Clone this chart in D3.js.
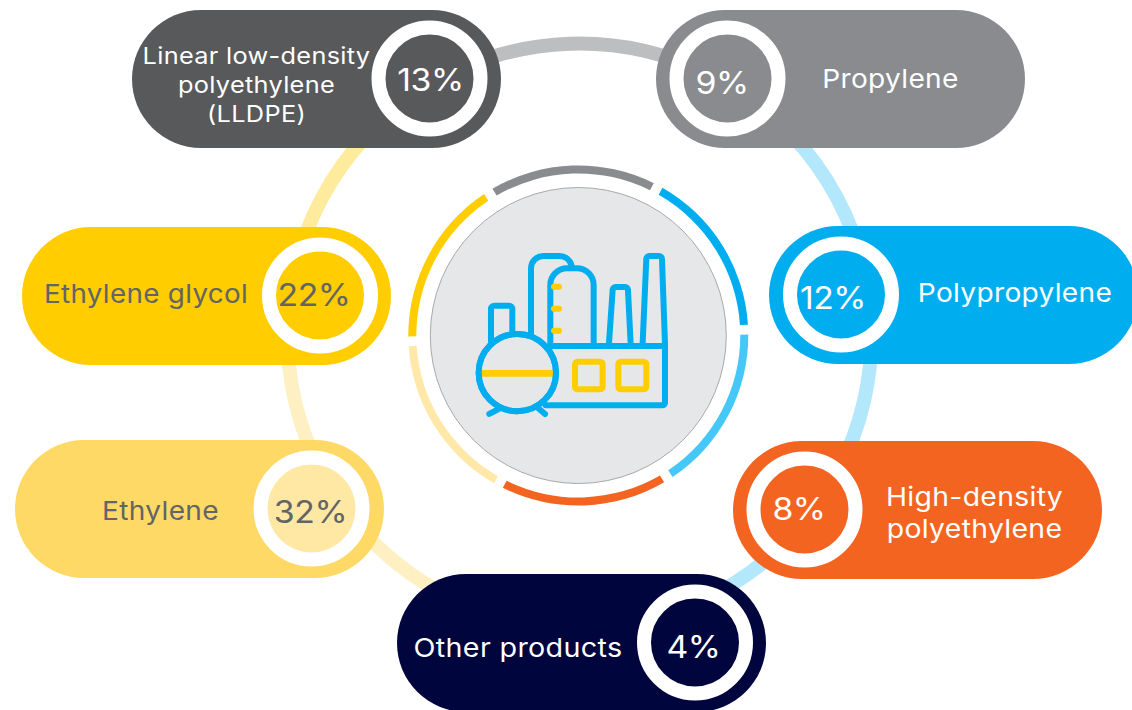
<!DOCTYPE html>
<html>
<head>
<meta charset="utf-8">
<script src="https://cdn.jsdelivr.net/npm/d3@7/dist/d3.min.js"></script>
<style>
html,body{margin:0;padding:0;background:#fff;overflow:hidden}
text{font-family:Inter,"Open Sans",sans-serif}
</style>
</head>
<body>
<svg id="chart" width="1132" height="710"></svg>
<script>
// Product shares
const categories = ["Linear low-density|polyethylene|(LLDPE)", "Propylene", "Polypropylene", "High-density|polyethylene", "Other products", "Ethylene", "Ethylene glycol"];
const shares = [13, 9, 12, 8, 4, 32, 22];
const pillColors = ["#58595b", "#8a8b8e", "#00aeef", "#f36421", "#00053d", "#ffd966", "#ffcd00"];
const coreColors = ["#58595b", "#8a8b8e", "#00aeef", "#f36421", "#00053d", "#ffe8a3", "#ffcd00"];
const textColors = ["#fff", "#fff", "#fff", "#fff", "#fff", "#636466", "#636466"];
// Ring segments, clockwise from the top
const innerRing = ["#8a8b8e", "#00aeef", "#45c8f7", "#f36421", "#ffe8a8", "#ffcd00"];
const outerRing = ["#bcbec0", "#b3e8fc", "#b3e8fc", "#b3e8fc", "#fff0c4", "#ffeb9e"];

const cx = 578.3, cy = 335.5;
const svg = d3.select("#chart");
const deg = Math.PI / 180;

const slices = d3.pie().value(1).sort(null)
  .startAngle(-32 * deg).endAngle(328 * deg);

// Wide connecting ring behind the pills
svg.append("g").attr("transform", `translate(${cx + 1.2},${cy})`)
  .selectAll("path").data(slices(outerRing)).join("path")
  .attr("fill", d => d.data)
  .attr("d", d3.arc().innerRadius(285).outerRadius(299));

// Grey disc and the segmented ring around it
svg.append("circle").attr("cx", cx).attr("cy", cy).attr("r", 148)
  .attr("fill", "#e6e7e8").attr("stroke", "#a7a9ac").attr("stroke-width", 1);

svg.append("g").attr("transform", `translate(${cx},${cy})`)
  .selectAll("path").data(slices.padAngle(2.4 * deg)(innerRing)).join("path")
  .attr("fill", d => d.data)
  .attr("d", d3.arc().innerRadius(162).outerRadius(170));

// Plant icon
const icon = svg.append("g").attr("transform", "translate(400,160) scale(0.3333)")
  .attr("fill", "none").attr("stroke-linejoin", "round").attr("stroke-linecap", "round");
const blue = "#00aeef", yellow = "#ffcd00";
icon.append("path").attr("stroke", blue).attr("stroke-width", 18).attr("d",
  "M273,545V447a10,10 0 0 1 10,-10H327a10,10 0 0 1 10,10V515" +
  "M393,522V325a37,37 0 0 1 37,-37H478a37,37 0 0 1 37,30" +
  "M451,550V375a50,50 0 0 1 50,-50H531a50,50 0 0 1 50,50V550" +
  "M627,550L638,390a9,9 0 0 1 9,-9H675a9,9 0 0 1 9,9L692,550" +
  "M728,550L739,297a9,9 0 0 1 9,-9H777a9,9 0 0 1 9,9L795,550V728a8,8 0 0 1 -8,8H437" +
  "M455,558H795" +
  "M300,745L268,762M415,745L435,762");
icon.append("g").attr("stroke", yellow).attr("stroke-width", 18).call(g => {
  g.append("path").attr("d", "M462,380H477M462,446H477M462,512H477");
  g.append("rect").attr("x", 525).attr("y", 605).attr("width", 83).attr("height", 83).attr("rx", 8);
  g.append("rect").attr("x", 655).attr("y", 605).attr("width", 84).attr("height", 83).attr("rx", 8);
});
icon.append("circle").attr("cx", 352).attr("cy", 638).attr("r", 116)
  .attr("stroke", blue).attr("stroke-width", 18).attr("fill", "#e6e7e8");
icon.append("path").attr("stroke", yellow).attr("stroke-width", 20).attr("stroke-linecap", "butt")
  .attr("d", "M245,640H459");
// Redraw the rim over the bar ends
icon.append("circle").attr("cx", 352).attr("cy", 638).attr("r", 116)
  .attr("stroke", blue).attr("stroke-width", 18);

// Pill layout: left edge, top edge, badge centre, label anchor and baselines
const pillX = [132, 656, 769, 733, 397, 15, 22];
const pillY = [10, 10, 226, 441, 574, 440, 227];
const badgeX = [429.5, 727.5, 841, 804.5, 695, 311.5, 320];
const labelX = [256.5, 890.5, 1015, 974.5, 518, 160.5, 146];
const labelY = [63.5, 88, 301.5, 506, 657, 519.5, 302.5];
const lineGap = [29.5, 0, 0, 32, 0, 0, 0];
const labelSize = [23, 26, 26, 26, 26, 26, 26];
const labelStretch = [1.1, 1.08, 1.08, 1.09, 1.105, 1.08, 1.07];
const pctX = [430.5, 722, 833, 799, 693.5, 310.5, 314];
const pctY = [91, 94, 309, 520, 658, 523, 306];
const pillW = 369, pillH = 138;

const pill = svg.append("g").selectAll("g").data(categories).join("g");
pill.append("rect")
  .attr("x", (d, i) => pillX[i]).attr("y", (d, i) => pillY[i])
  .attr("width", pillW).attr("height", pillH).attr("rx", pillH / 2)
  .attr("fill", (d, i) => pillColors[i]);
pill.append("circle")
  .attr("cx", (d, i) => badgeX[i]).attr("cy", (d, i) => pillY[i] + pillH / 2 - 0.5)
  .attr("r", 51).attr("fill", (d, i) => coreColors[i])
  .attr("stroke", "#fff").attr("stroke-width", 14);
pill.append("text")
  .attr("transform", (d, i) => `translate(${labelX[i]},${labelY[i]}) scale(${labelStretch[i]},1)`)
  .attr("text-anchor", "middle").attr("letter-spacing", 0.3)
  .attr("font-size", (d, i) => labelSize[i])
  .attr("fill", (d, i) => textColors[i])
  .each(function (d, i) {
    d3.select(this).selectAll("tspan").data(d.split("|")).join("tspan")
      .attr("x", 0).attr("dy", (t, j) => j ? lineGap[i] : 0).text(t => t);
  });
pill.append("text")
  .attr("transform", (d, i) => `translate(${pctX[i]},${pctY[i]}) scale(1.09,1)`)
  .attr("text-anchor", "middle").attr("font-size", 31).attr("letter-spacing", -0.4)
  .attr("fill", (d, i) => textColors[i])
  .text((d, i) => shares[i] + "%");
</script>
</body>
</html>
